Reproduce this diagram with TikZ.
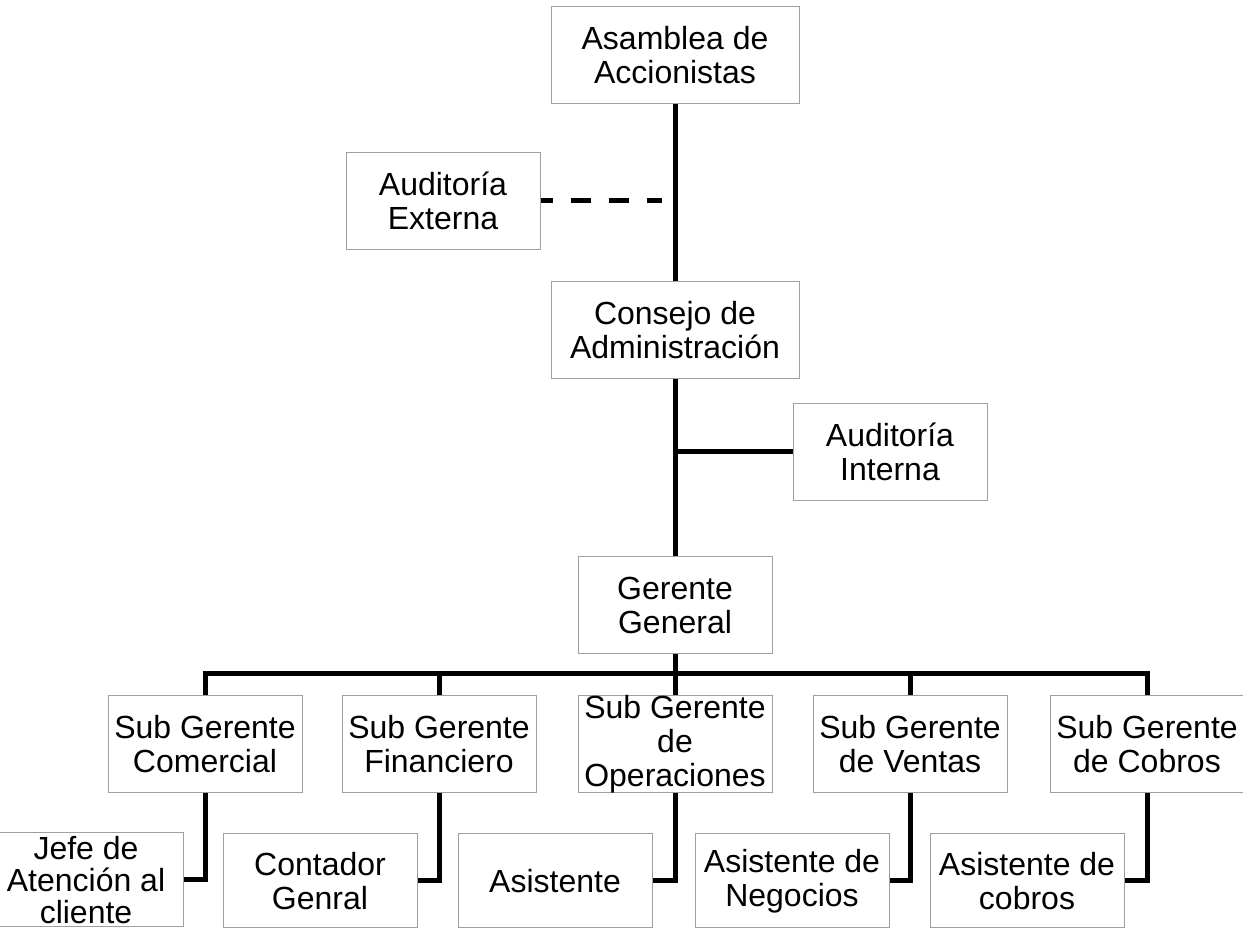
\documentclass[tikz,border=0pt]{standalone}
\usepackage{fontspec}
\setmainfont{Liberation Sans}
\usetikzlibrary{positioning}

\begin{document}
\begin{tikzpicture}[
  x=0.5pt, y=-0.5pt,
  every node/.style={font=\fontsize{16}{17}\selectfont},
  box/.style={draw=gray!75, line width=0.5pt, minimum width=97pt, minimum height=48.5pt, align=center, inner sep=0pt},
  wide/.style={box, minimum width=124pt},
  low/.style={box, minimum height=47pt},
  link/.style={line width=2.5pt},
  dashlink/.style={link, dash pattern=on 10pt off 9pt, dash phase=4pt}
]
\useasboundingbox (0,0) rectangle (1243,929);

% Main column
\node[wide] (asamblea) at (675,55) {Asamblea de\\Accionistas};
\node[box] (externa) at (443,201) {Auditoría\\Externa};
\node[wide] (consejo) at (675,330) {Consejo de\\Administración};
\node[box] (interna) at (890,452) {Auditoría\\Interna};
\node[box] (gerente) at (675,605) {Gerente\\General};

% Sub gerentes
\node[box] (comercial) at (205,744) {Sub Gerente\\Comercial};
\node[box] (financiero) at (439,744) {Sub Gerente\\Financiero};
\node[box] (operaciones) at (675,744) {Sub Gerente\\de\\Operaciones};
\node[box] (ventas) at (910,744) {Sub Gerente\\de Ventas};
\node[box] (cobros) at (1147,744) {Sub Gerente\\de Cobros};

% Bottom row
\node[low, font=\fontsize{16}{16}\selectfont] (jefe) at (86,880) {Jefe de\\Atención al\\cliente};
\node[low] (contador) at (320,881) {Contador\\Genral};
\node[low] (asistente) at (555,881) {Asistente};
\node[low] (negocios) at (792,881) {Asistente de\\Negocios};
\node[low] (asistcobros) at (1027,881) {Asistente de\\cobros};

% Main line
\draw[link] (asamblea) -- (consejo);
\draw[link] (consejo) -- (gerente);
\draw[link] (interna.west) -- (interna.west -| gerente.north);
\draw[dashlink, shorten >=6.5pt] (externa.east) -- (externa.east -| consejo.north);

% Bar
\draw[link] (gerente) -- (operaciones);
\draw[link] (comercial.north) -- ++(0,-21) -| (cobros.north);
\foreach \n in {financiero, ventas}
  \draw[link] (\n.north) -- ++(0,-21);

% Elbows
\foreach \a/\b in {comercial/jefe, financiero/contador, operaciones/asistente, ventas/negocios, cobros/asistcobros}
  \draw[link] (\a.south) |- (\b.east);

\end{tikzpicture}
\end{document}
